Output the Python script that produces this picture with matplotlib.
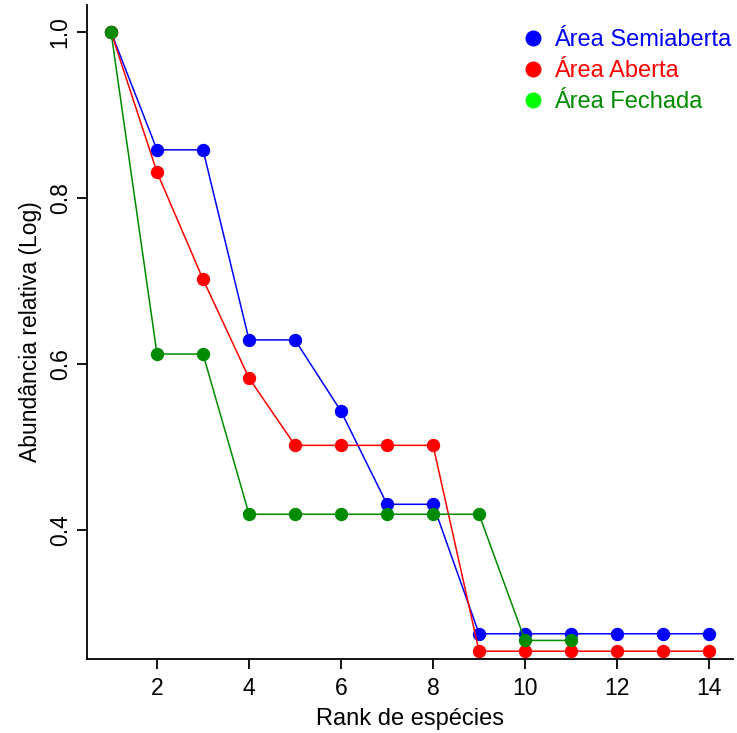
import matplotlib
matplotlib.use("Agg")
import matplotlib.pyplot as plt
from matplotlib.lines import Line2D

plt.rcParams['font.family'] = ['Liberation Sans', 'DejaVu Sans']

# rank of species
rank_semi = [1, 2, 3, 4, 5, 6, 7, 8, 9, 10, 11, 12, 13, 14]
rank_aberta = [1, 2, 3, 4, 5, 6, 7, 8, 9, 10, 11, 12, 13, 14]
rank_fechada = [1, 2, 3, 4, 5, 6, 7, 8, 9, 10, 11]

# relative abundance (log)
ab_semi = [1.0, 0.858, 0.858, 0.629, 0.629, 0.543, 0.431, 0.431,
           0.275, 0.275, 0.275, 0.275, 0.275, 0.275]
ab_aberta = [1.0, 0.831, 0.702, 0.583, 0.502, 0.502, 0.502, 0.502,
             0.254, 0.254, 0.254, 0.254, 0.254, 0.254]
ab_fechada = [1.0, 0.612, 0.612, 0.419, 0.419, 0.419, 0.419, 0.419,
              0.419, 0.267, 0.267]

labels = ['Área Semiaberta', 'Área Aberta', 'Área Fechada']
line_cols = ['#0000FF', '#FF0000', '#008B00']
leg_cols = ['#0000FF', '#FF0000', '#00FF00']

W, H = 737, 733
fig = plt.figure(figsize=(W / 100, H / 100), dpi=100)
ax = fig.add_axes([87 / W, (H - 659) / H, (733 - 87) / W, (659 - 5) / H])

series = [(rank_semi, ab_semi), (rank_aberta, ab_aberta), (rank_fechada, ab_fechada)]
for (x, y), c in zip(series, line_cols):
    ax.plot(x, y, color=c, lw=1.1, marker='o', ms=8.6, mec=c, mfc=c, zorder=3)

ax.set_xlim(0.478, 14.52)
ax.set_ylim(0.2446, 1.0325)
ax.set_xticks([2, 4, 6, 8, 10, 12, 14])
ax.set_yticks([0.4, 0.6, 0.8, 1.0])
ax.set_yticklabels(['0.4', '0.6', '0.8', '1.0'], rotation=90, va='center')

for s in ['top', 'right']:
    ax.spines[s].set_visible(False)
for s in ['left', 'bottom']:
    ax.spines[s].set_linewidth(1.3)
ax.tick_params(direction='out', length=7, width=1.3, labelsize=16.5, pad=6)
ax.tick_params(axis='y', pad=4)

ax.set_xlabel('Rank de espécies', fontsize=17, labelpad=6)
ax.set_ylabel('Abundância relativa (Log)', fontsize=16.5, labelpad=5)

handles = [Line2D([], [], ls='none', marker='o', ms=10.5, mfc=c, mec=c) for c in leg_cols]
leg = ax.legend(handles, labels, loc='upper left', frameon=False, fontsize=17,
                handlelength=1.0, handletextpad=0.4, labelspacing=0.38,
                borderaxespad=0, bbox_to_anchor=(512 / W, 1 - 20 / H),
                bbox_transform=fig.transFigure)
for t, c in zip(leg.get_texts(), line_cols):
    t.set_color(c)

fig.savefig('out.png', dpi=100)
